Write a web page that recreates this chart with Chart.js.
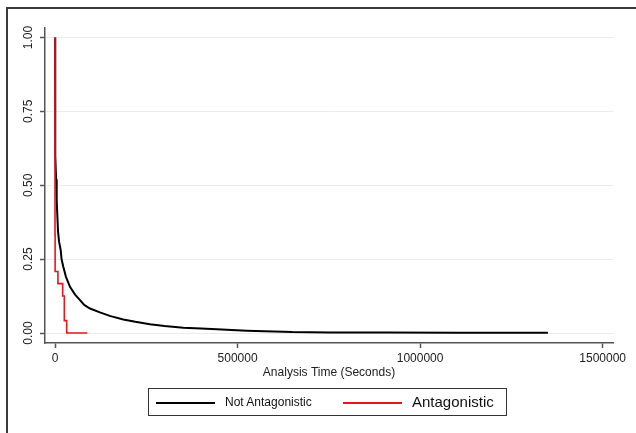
<!DOCTYPE html>
<html>
<head>
<meta charset="utf-8">
<script src="https://cdn.jsdelivr.net/npm/chart.js@4"></script>
<style>
    html, body { margin: 0; padding: 0; background: #fff; }
    body { width: 636px; height: 433px; position: relative; overflow: hidden; font-family: "Liberation Sans", Arial, sans-serif; }
    #frame { position: absolute; left: 6px; top: 7px; width: 700px; height: 500px; border-left: 2px solid #3a3a3a; border-top: 2px solid #3a3a3a; }
    #plot { position: absolute; left: 0; top: 0; }
    #legend { position: absolute; left: 148px; top: 388px; width: 359px; height: 28px; border: 1.5px solid #333; box-sizing: border-box; }
    .swatch { position: absolute; top: 13px; width: 59px; height: 2px; }
    .lbl { position: absolute; white-space: nowrap; color: #111; line-height: 1; }
</style>
</head>
<body>
<div id="frame"></div>
<canvas id="plot" width="636" height="433"></canvas>
<div id="legend"></div>

<script>
// --- Data ---
// Kaplan-Meier curve, not antagonistic (analysis time in seconds, survival)
const notAntTime = [0, 100, 500, 1500, 3000, 4600, 8200, 11000, 15600, 18000, 22700, 30000, 41000, 55000,
    68500, 80000, 95900, 123000, 150000, 187000, 220000, 260000, 300000, 351500, 400000, 443000,
    525000, 600000, 650000, 750000, 900000, 1100000, 1350000];
const notAntSurv = [1, 0.9, 0.75, 0.6, 0.52, 0.45, 0.345, 0.31, 0.28, 0.25, 0.224, 0.19, 0.156, 0.13,
    0.111, 0.095, 0.083, 0.070, 0.058, 0.046, 0.038, 0.030, 0.024, 0.018, 0.015, 0.0125,
    0.008, 0.005, 0.003, 0.002, 0.0015, 0.001, 0.0005];

// Kaplan-Meier curve, antagonistic (step function)
const antTime = [0, 300, 8000, 21000, 25500, 32000, 88500];
const antSurv = [1, 0.333, 0.208, 0.167, 0.125, 0.042, 0];

const xTicks = [0, 500000, 1000000, 1500000];
const yTicks = [0, 0.25, 0.5, 0.75, 1];
const seriesNames = ['Not Antagonistic', 'Antagonistic'];
const seriesColors = ['#000000', '#e8161b'];
const xTitle = 'Analysis Time (Seconds)';

const FONT = '"Liberation Sans", Arial, sans-serif';

function toPoints(xs, ys) {
    return xs.map((x, i) => ({ x: x, y: ys[i] }));
}

// y tick labels are rotated (read bottom to top), placed with the y scale
const rotatedYLabels = {
    id: 'rotatedYLabels',
    afterDraw(chart) {
        const s = chart.scales.y;
        const ctx = chart.ctx;
        ctx.save();
        ctx.font = '12px ' + FONT;
        ctx.fillStyle = '#222';
        ctx.textAlign = 'center';
        ctx.textBaseline = 'middle';
        yTicks.forEach(v => {
            const py = s.getPixelForValue(v);
            ctx.save();
            ctx.translate(29, py);
            ctx.rotate(-Math.PI / 2);
            ctx.fillText(v.toFixed(2), 0, 0);
            ctx.restore();
        });
        ctx.restore();
    }
};

new Chart(document.getElementById('plot'), {
    type: 'line',
    data: {
        datasets: [
            {
                label: seriesNames[0],
                data: toPoints(notAntTime, notAntSurv),
                borderColor: seriesColors[0],
                borderWidth: 2,
                pointRadius: 0,
                tension: 0,
                order: 1
            },
            {
                label: seriesNames[1],
                data: toPoints(antTime, antSurv),
                borderColor: seriesColors[1],
                borderWidth: 1.6,
                pointRadius: 0,
                stepped: 'after',
                order: 0
            }
        ]
    },
    options: {
        responsive: false,
        animation: false,
        devicePixelRatio: 1,
        layout: { padding: { left: 0, top: 28, right: 23, bottom: 53 } },
        plugins: { legend: { display: false }, tooltip: { enabled: false } },
        scales: {
            x: {
                type: 'linear',
                min: -27400,
                max: 1528300,
                afterBuildTicks: s => { s.ticks = xTicks.map(v => ({ value: v })); },
                afterFit: s => { s.height = 37; },
                ticks: {
                    color: '#222',
                    padding: 3,
                    maxRotation: 0,
                    font: { family: FONT, size: 12 },
                    callback: v => String(v)
                },
                grid: { drawOnChartArea: false, drawTicks: true, tickLength: 5, tickColor: '#555', tickWidth: 1.5 },
                border: { display: true, color: '#555', width: 1.5 },
                title: {
                    display: true,
                    text: xTitle,
                    color: '#222',
                    padding: 0,
                    font: { family: FONT, size: 12 }
                }
            },
            y: {
                type: 'linear',
                min: -0.0338,
                max: 1.032,
                afterBuildTicks: s => { s.ticks = yTicks.map(v => ({ value: v })); },
                afterFit: s => { s.width = 45; },
                ticks: { display: false },
                grid: { color: '#ebebeb', lineWidth: 1, drawTicks: true, tickLength: 5, tickColor: '#555', tickWidth: 1.5 },
                border: { display: true, color: '#555', width: 1.5 }
            }
        }
    },
    plugins: [rotatedYLabels]
});

// --- Legend (the two entries use different text sizes) ---
const legend = document.getElementById('legend');
legend.innerHTML = `
    <div class="swatch" style="left:7px;background:${seriesColors[0]}"></div>
    <div class="lbl" style="left:76px;top:7px;font-size:12px">${seriesNames[0]}</div>
    <div class="swatch" style="left:194px;background:${seriesColors[1]}"></div>
    <div class="lbl" style="left:263px;top:5px;font-size:15px">${seriesNames[1]}</div>
`;
</script>
</body>
</html>
